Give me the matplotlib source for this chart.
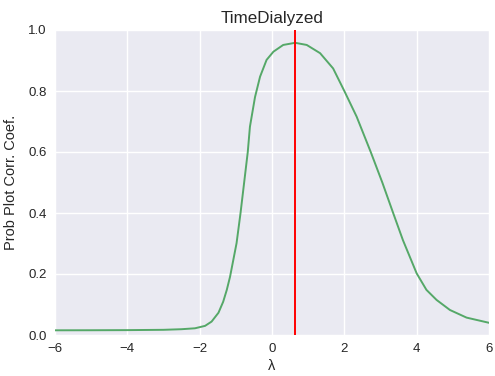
import matplotlib
matplotlib.use("Agg")
import matplotlib.pyplot as plt

# Box-Cox normality plot values
lam = [-6.0, -5.0, -4.0, -3.0, -2.5, -2.13, -1.85, -1.67, -1.48, -1.35, -1.25,
       -1.16, -1.07, -0.98, -0.87, -0.67, -0.61, -0.47, -0.33, -0.15, 0.04,
       0.31, 0.64, 0.96, 1.33, 1.69, 2.0, 2.34, 2.73, 3.05, 3.35, 3.62,
       4.0, 4.27, 4.55, 4.92, 5.38, 6.0]
ppcc = [0.0154, 0.0156, 0.016, 0.017, 0.019, 0.022, 0.030, 0.044, 0.073, 0.109, 0.148,
        0.191, 0.246, 0.301, 0.400, 0.600, 0.683, 0.780, 0.847, 0.902, 0.929,
        0.951, 0.958, 0.951, 0.924, 0.874, 0.800, 0.716, 0.600, 0.500, 0.400, 0.311,
        0.202, 0.148, 0.115, 0.082, 0.057, 0.040]
lmax = 0.64
title = "TimeDialyzed"

plt.rcParams['font.family'] = ['Liberation Sans', 'DejaVu Sans']

fig = plt.figure(figsize=(4.95, 3.76), dpi=100)
ax = fig.add_axes([55 / 495, 1 - 335 / 376, 434 / 495, 305 / 376])
ax.set_facecolor('#EAEAF2')
for s in ax.spines.values():
    s.set_visible(False)
ax.grid(True, color='white', linewidth=1.0)
ax.set_axisbelow(True)
ax.tick_params(length=0, labelsize=9.5, pad=6, colors='#262626')

ax.plot(lam, ppcc, color='#55A868', linewidth=1.4)
ax.axvline(lmax, color='r', linewidth=1.4)

ax.set_xlim(-6, 6)
ax.set_ylim(0, 1)
ax.set_xticks([-6, -4, -2, 0, 2, 4, 6])
ax.set_yticks([0.0, 0.2, 0.4, 0.6, 0.8, 1.0])
ax.set_xlabel('λ', fontsize=10.5, color='#262626', labelpad=3)
ax.set_ylabel('Prob Plot Corr. Coef.', fontsize=10.5, color='#262626', labelpad=7)
ax.set_title(title, fontsize=12.25, color='#262626', pad=5)

fig.savefig('out.png', dpi=100)
